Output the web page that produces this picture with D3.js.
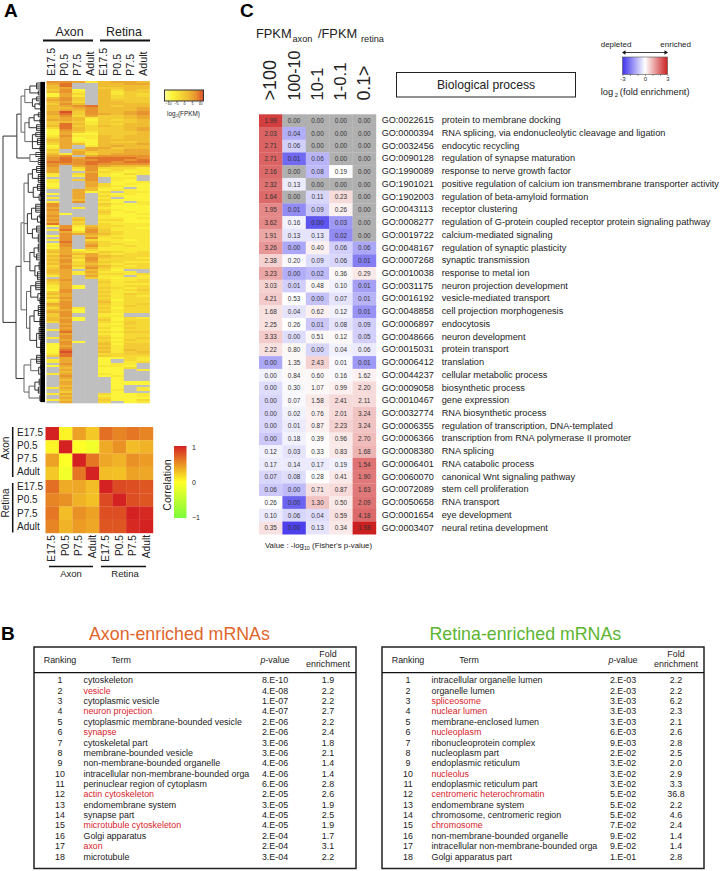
<!DOCTYPE html>
<html>
<head>
<meta charset="utf-8">
<script src="https://cdn.jsdelivr.net/npm/d3@7"></script>
<style>
html, body { margin: 0; padding: 0; background: #fff; }
text { font-family: "Liberation Sans", Arial, sans-serif; fill: #222; }
.panel { font-weight: bold; font-size: 19px; fill: #000; }
</style>
</head>
<body>
<div id="chart"></div>
<script>
var svgWidth = 724;
var svgHeight = 871;

// Panel A: sample names
var stages = ["E17.5", "P0.5", "P7.5", "Adult"];
var samples = ["Axon E17.5", "Axon P0.5", "Axon P7.5", "Axon Adult", "Retina E17.5", "Retina P0.5", "Retina P7.5", "Retina Adult"];

// Panel A: expression level per gene, one char per sample, 0 low .. 9 high, x = not detected
var expressionRows = [
  "77625665","68xx5566","58xx5555","56xx4455","471x5354","572x5244","163x5243","162x5343",
  "574x5344","674x5444","563x5544","475x5555","56785455","55675556","56575556","69475567",
  "68476567","57364456","56524456","66514345","45424445","48524355","58435455","38534456",
  "17534456","16424445","16114445","27225455","36125455","56115555","46215445","36515556",
  "16x25655","26x66455","4x565566","3x645566","52635666","67x67777","78688887","78778878",
  "88788788","77787777","7x676555","6x373332","6x272322","6xx63212","2x372132","2x27211x",
  "xxx7x22x","2x47x21x","2xx6x112","1xx63121","1xx63211","2xx521x1","xx651221","xx613x22",
  "1x6x2121","xx6x3211","2x6x2x11","xx5x3111","2x7x21x2","7xxx4212","7xxx3111","6x2x2111",
  "7xxx3211","6xxx4121","61xx3112","7xxx2111","6x4x2212","7x5x3311","6x3x2211","8x4x3222",
  "17253322","x7163221","28174222","x6374322","x7665322","17x53222","x7x72322","27x32212",
  "x8x53222","17x63322","27x73232","16x52222","46132222","56324323","36563233","57365433",
  "46474332","57273333","47364322","56353233","37465323","47274233","56x531xx","5626222x",
  "46253323","26x622x2","x6x42122","57xx3223","46xx4233","36xx3222","261x3233","261x4323",
  "17xx3234","47xx4223","56xx3243","36xx4232","57xx3233","26xx4133","37xx5233","67xx4234",
  "57xx3243","372x4133","561x3233","671x4233","47xx21xx","47xx22xx","561x3132","571x4133",
  "37xx3243","x6xx2143","x7xx2233","x6xx3143","27xx2133","x8xx3244","x6xx2133","x7xx3133",
  "27xx4234","x6xx3143","x71x4233","17xx5144","16xx4244","17xx5244","18xx4254","19xx5245",
  "28xx3344","48xx4333","x6xx1132","26xx1x32","26xx1x23","x7xx122x","16xx221x","x5xx113x",
  "x6xx11x2","x5xx11xx","26xx21xx","x7xx12xx","x6xxx1xx","x5xxx1xx","x6xxx111","x6xxx111",
  "x5xxx1xx","26xxx1x2","x5xxx2x2","x4xxx1xx","26xx3112","x5xx2112","x6xx3111","25xx4113",
  "x6xx3x12"
];

// Panel A: gene tree, [merge height, children...], a plain number is that many genes joined at that height
var geneTree = [1.0,
  [.67,
    [.57,
      [.48, [.36, [.2, 4], [.16, 3]], [.3, [.2, 3], [.24, [.14, 2], [.1, 3]]]],
      [.48, [.38, [.26, [.16, 3], [.12, 3]], [.2, 4]], [.3, [.22, 3], [.18, 4], [.12, 3]]]
    ],
    [.36, [.22, 3], [.16, 4]]
  ],
  [.69,
    [.57,
      [.5,
        [.4, [.3, [.2, 4], [.16, 5]], [.28, [.18, 4], [.14, [.1, 3], [.08, 3]]]],
        [.42, [.32, [.22, 5], [.18, [.12, 3], [.1, 3]]], [.3, [.2, 4], [.16, 5]]],
        [.36, [.26, [.16, 5], [.2, 4]], [.24, [.14, 5], [.18, 5]]]
      ],
      [.44, [.34, [.22, 5], [.17, [.1, 3], [.12, 4]]], [.36, [.26, [.16, 6], [.12, 5]], [.2, [.14, 7], [.1, 7]]]]
    ],
    [.5, [.34, [.2, 5], [.15, [.1, 3], [.08, 4]]], [.38, [.24, [.14, 4], [.16, 4]], [.12, 4]]]
  ]
];

// Panel A: sample correlation
var correlation = [
  [1, .05, .42, .25, .65, .55, .62, .55],
  [.05, 1, 0, -.1, .38, .5, .3, .35],
  [.42, 0, 1, .62, .4, .35, .5, .45],
  [.25, -.1, .62, 1, .3, .28, .42, .4],
  [.65, .38, .4, .3, 1, .82, .8, .76],
  [.55, .5, .35, .28, .82, 1, .8, .76],
  [.62, .3, .5, .42, .8, .8, 1, .97],
  [.55, .35, .45, .4, .76, .76, .97, 1]
];

// Panel C
var ratioBins = [">100", "100-10", "10-1", "1-0.1", "0.1>"];
var goIds = ["GO:0022615","GO:0000394","GO:0032456","GO:0090128","GO:1990089","GO:1901021","GO:1902003","GO:0043113","GO:0008277","GO:0019722","GO:0048167","GO:0007268","GO:0010038","GO:0031175","GO:0016192","GO:0048858","GO:0006897","GO:0048666","GO:0015031","GO:0006412","GO:0044237","GO:0009058","GO:0010467","GO:0032774","GO:0006355","GO:0006366","GO:0008380","GO:0006401","GO:0060070","GO:0072089","GO:0050658","GO:0001654","GO:0003407"];
var goTerms = [
  "protein to membrane docking",
  "RNA splicing, via endonucleolytic cleavage and ligation",
  "endocytic recycling",
  "regulation of synapse maturation",
  "response to nerve growth factor",
  "positive regulation of calcium ion transmembrane transporter activity",
  "regulation of beta-amyloid formation",
  "receptor clustering",
  "regulation of G-protein coupled receptor protein signaling pathway",
  "calcium-mediated signaling",
  "regulation of synaptic plasticity",
  "synaptic transmission",
  "response to metal ion",
  "neuron projection development",
  "vesicle-mediated transport",
  "cell projection morphogenesis",
  "endocytosis",
  "neuron development",
  "protein transport",
  "translation",
  "cellular metabolic process",
  "biosynthetic process",
  "gene expression",
  "RNA biosynthetic process",
  "regulation of transcription, DNA-templated",
  "transcription from RNA polymerase II promoter",
  "RNA splicing",
  "RNA catabolic process",
  "canonical Wnt signaling pathway",
  "stem cell proliferation",
  "RNA transport",
  "eye development",
  "neural retina development"
];
// -log10 p shown in each cell
var goPvalues = [
  [1.99,0,0,0,0],[2.03,.04,0,0,0],[2.71,.06,0,0,0],[2.71,.01,.06,0,0],[2.16,0,.08,.19,0],
  [2.32,.13,0,0,0],[1.64,0,.11,.23,0],[1.95,.01,.09,.26,0],[3.62,.16,0,.03,0],[1.91,.13,.13,.02,0],
  [3.26,0,.40,.06,.06],[2.38,.20,.09,.06,.01],[3.23,0,.02,.36,.29],[3.03,.01,.48,.10,.01],[4.21,.53,0,.07,.01],
  [1.68,.04,.62,.12,.01],[2.25,.26,.01,.08,.09],[3.33,0,.51,.12,.05],[2.22,.80,0,.04,.06],[0,1.35,2.43,.01,.01],
  [0,.84,.60,.16,1.62],[0,.30,1.07,.99,2.20],[0,.07,1.58,2.41,2.11],[0,.02,.76,2.01,3.24],[0,.01,.87,2.23,3.24],
  [0,.18,.39,.96,2.70],[.12,.03,.33,.83,1.68],[.17,.14,.17,.19,1.54],[.07,.08,.28,.41,1.90],[.06,0,.71,.87,1.63],
  [.26,0,1.30,.50,2.09],[.10,.06,.04,.59,4.18],[.35,0,.13,.34,1.98]
];
// log2 fold enrichment behind the cell colour, null = no genes (grey)
var goFold = [
  [2.6,null,null,null,null],[2.1,-1.2,null,null,null],[2.1,-.7,null,null,null],[2.1,-2.2,-1.1,null,null],[2,null,-1,0,null],
  [1.9,-.3,null,null,null],[2,null,-.6,.5,null],[1.6,-1.7,-.8,.2,null],[1.6,-.2,-2.5,-1.5,null],[1.2,-.4,-.4,-1.7,null],
  [1.4,-1.3,.2,-.7,-1.3],[.6,-.1,-.5,-.6,-1.9],[1.2,-1.2,-1,.1,.3],[.6,-.7,.1,-.2,-1.4],[.7,0,-.9,-.4,-1.1],
  [.4,-.4,.2,-.2,-1.6],[.4,0,-.8,-.4,-.7],[.7,-.5,.1,.1,-.7],[.4,.1,-.6,-.2,-.3],[-1.3,.1,.6,-.1,-1.5],
  [-.2,.1,.1,-.1,.2],[-.5,-.1,.1,.2,.5],[-.6,-.1,.3,.5,.5],[-.6,-.2,.2,.5,.8],[-.6,-.3,.2,.6,.8],
  [-.8,-.2,.05,.3,.9],[-.2,-.4,.05,.3,1],[-.3,-.3,-.3,-.2,1.9],[-.6,-.5,0,.3,1.8],[-.8,-1,.4,.5,1.8],
  [0,-2.3,.8,.3,1.9],[-.3,-.6,-.5,.4,2],[.4,-2.8,-.4,.3,3]
];

// Panel B
var tableRanks = d3.range(1, 19);
var axonTerms = ["cytoskeleton","vesicle","cytoplasmic vesicle","neuron projection","cytoplasmic membrane-bounded vesicle","synapse","cytoskeletal part","membrane-bounded vesicle","non-membrane-bounded organelle","intracellular non-membrane-bounded orga","perinuclear region of cytoplasm","actin cytoskeleton","endomembrane system","synapse part","microtubule cytoskeleton","Golgi apparatus","axon","microtubule"];
var axonP = ["8.E-10","4.E-08","1.E-07","4.E-07","2.E-06","2.E-06","3.E-06","3.E-06","4.E-06","4.E-06","6.E-06","2.E-05","3.E-05","4.E-05","4.E-05","2.E-04","2.E-04","3.E-04"];
var axonFoldText = ["1.9","2.2","2.2","2.7","2.2","2.4","1.8","2.1","1.4","1.4","2.8","2.6","1.9","2.5","1.9","1.7","3.1","2.2"];
var axonMarked = ["vesicle","neuron projection","synapse","actin cytoskeleton","microtubule cytoskeleton","axon"];
var retinaTerms = ["intracellular organelle lumen","organelle lumen","spliceosome","nuclear lumen","membrane-enclosed lumen","nucleoplasm","ribonucleoprotein complex","nucleoplasm part","endoplasmic reticulum","nucleolus","endoplasmic reticulum part","centromeric heterochromatin","endomembrane system","chromosome, centromeric region","chromosome","non-membrane-bounded organelle","intracellular non-membrane-bounded orga","Golgi apparatus part"];
var retinaP = ["2.E-03","2.E-03","3.E-03","3.E-03","3.E-03","6.E-03","9.E-03","2.E-02","3.E-02","3.E-02","3.E-02","5.E-02","5.E-02","5.E-02","7.E-02","9.E-02","9.E-02","1.E-01"];
var retinaFoldText = ["2.2","2.2","6.2","2.3","2.1","2.6","2.8","2.5","2.0","2.9","3.3","36.8","2.2","4.6","2.4","1.4","1.4","2.8"];
var retinaMarked = ["spliceosome","nuclear lumen","nucleoplasm","nucleolus","centromeric heterochromatin","chromosome"];

var svg = d3.select("#chart")
  .append("svg")
  .attr("width", svgWidth)
  .attr("height", svgHeight)
  .style("display", "block");

var defs = svg.append("defs");

// the source heatmap is slightly soft between rows
defs.append("filter").attr("id", "soft")
  .append("feGaussianBlur").attr("stdDeviation", "0 0.5");

function addGradient(id, stops, vertical) {
  var grad = defs.append("linearGradient")
    .attr("id", id)
    .attr("x1", 0).attr("y1", vertical ? 1 : 0)
    .attr("x2", vertical ? 0 : 1).attr("y2", 0);
  stops.forEach(function (c, i) {
    grad.append("stop").attr("offset", i / (stops.length - 1)).attr("stop-color", c);
  });
}

function label(parent, x, y, str, size, anchor) {
  return parent.append("text")
    .attr("x", x).attr("y", y)
    .attr("font-size", size)
    .attr("text-anchor", anchor || "start")
    .text(str);
}

function vlabel(parent, x, y, str, size, anchor) {
  return parent.append("text")
    .attr("transform", `translate(${x},${y}) rotate(-90)`)
    .attr("font-size", size)
    .attr("text-anchor", anchor || "start")
    .text(str);
}

function bar(parent, x1, y1, x2, y2, w) {
  parent.append("line")
    .attr("x1", x1).attr("y1", y1).attr("x2", x2).attr("y2", y2)
    .attr("stroke", "#111").attr("stroke-width", w);
}

// ---------- Panel A ----------
label(svg, 4, 17, "A", 19).attr("class", "panel");

var exprColor = d3.scaleLinear()
  .domain([0, 1, 2, 3, 5, 7, 9])
  .range(["#fdfb9c", "#fcf43a", "#f9e837", "#f6d835", "#f0bd33", "#e8942e", "#d9502a"]);

var exprX = d3.scaleBand().domain(samples).range([46.5, 149.5]);
var exprY = d3.scaleBand().domain(d3.range(expressionRows.length)).range([81, 403]);

var heatA = svg.append("g").attr("filter", "url(#soft)");
expressionRows.forEach(function (row, r) {
  samples.forEach(function (s, c) {
    var ch = row[c];
    heatA.append("rect")
      .attr("x", exprX(s)).attr("y", exprY(r))
      .attr("width", exprX.bandwidth() + .3).attr("height", exprY.bandwidth() + .3)
      .attr("fill", ch === "x" ? "#bfbfbf" : exprColor(+ch));
  });
});

bar(svg, 43, 40.5, 93, 40.5, 2);
bar(svg, 100, 40.5, 150, 40.5, 2);
label(svg, 69.5, 36, "Axon", 12.4, "middle");
label(svg, 124, 36, "Retina", 12.4, "middle");
var exprLabelX = d3.scalePoint().domain(samples).range([51, 143]);
samples.forEach(function (s, i) {
  vlabel(svg, exprLabelX(s) + 3.8, 76, stages[i % 4], 10.8);
});

// dendrogram
function buildTree(spec) {
  return {
    h: spec[0],
    children: d3.merge(spec.slice(1).map(function (c) {
      return typeof c === "number" ? d3.range(c).map(function () { return { h: 0 }; }) : [buildTree(c)];
    }))
  };
}
var treeRoot = d3.hierarchy(buildTree(geneTree));
d3.cluster().size([320, 1]).separation(function () { return 1; })(treeRoot);
var treeX = d3.scaleLinear().domain([1, 0]).range([3, 45]);

var treeG = svg.append("g").attr("transform", "translate(0,82)");
treeRoot.descendants().forEach(function (n) {
  if (!n.children) return;
  var kids = n.children;
  var col = n.depth < 2 ? "#333" : (n.depth < 4 ? "#666" : "#333");
  treeG.append("line")
    .attr("x1", treeX(n.data.h)).attr("x2", treeX(n.data.h))
    .attr("y1", kids[0].x).attr("y2", kids[kids.length - 1].x)
    .attr("stroke", col).attr("stroke-width", 1);
  kids.forEach(function (k) {
    treeG.append("line")
      .attr("x1", treeX(n.data.h)).attr("x2", treeX(k.data.h))
      .attr("y1", k.x).attr("y2", k.x)
      .attr("stroke", k.children ? col : "#222")
      .attr("stroke-width", k.children ? 1 : .9);
    // leaf ends pile up into a solid strip next to the heatmap
    if (!k.children) {
      treeG.append("line")
        .attr("x1", treeX(.11)).attr("x2", treeX(0))
        .attr("y1", k.x).attr("y2", k.x)
        .attr("stroke", "#000").attr("stroke-width", 2.2);
    }
  });
});

// FPKM colour key
var fpkmKey = d3.scaleLinear().domain([-10, 10]).range([168, 200]);
var keyStops = [0, 1, 3, 5, 7, 9].map(exprColor);
addGradient("fpkmGrad", keyStops, false);
svg.append("rect").attr("x", 164.5).attr("y", 90).attr("width", 39).attr("height", 11)
  .attr("fill", "url(#fpkmGrad)").attr("stroke", "#333").attr("stroke-width", 1);
var fpkmAxis = svg.append("g").attr("transform", "translate(0,101)")
  .call(d3.axisBottom(fpkmKey).tickValues([-10, -5, 0, 5, 10]).tickSize(1.5).tickPadding(0));
fpkmAxis.select(".domain").remove();
fpkmAxis.selectAll("line").attr("stroke", "#333").attr("stroke-width", .5);
fpkmAxis.selectAll("text").attr("font-size", 3.8).attr("font-family", null);
var fpkmLabel = label(svg, 183.5, 115.5, "log", 6.4, "middle");
fpkmLabel.append("tspan").attr("font-size", 4).attr("dy", 1.5).text("2");
fpkmLabel.append("tspan").attr("dy", -1.5).text("(FPKM)");

// correlation
var corrColor = d3.scaleLinear().domain([-1, 0, 1]).range(["#7cfc3c", "#ffff28", "#d42222"]);
var corrScale = d3.scaleBand().domain(samples).range([45.5, 153]);
var corrScaleY = d3.scaleBand().domain(samples).range([427, 533]);
svg.append("g").selectAll("g")
  .data(correlation)
  .enter()
  .append("g")
  .each(function (row, r) {
    d3.select(this).selectAll("rect")
      .data(row)
      .enter()
      .append("rect")
      .attr("x", function (d, c) { return corrScale(samples[c]); })
      .attr("y", corrScaleY(samples[r]))
      .attr("width", corrScale.bandwidth() + .2)
      .attr("height", corrScaleY.bandwidth() + .2)
      .attr("fill", function (d) { return corrColor(d); });
  });

var corrLabelX = d3.scalePoint().domain(samples).range([51.5, 146]);
samples.forEach(function (s, i) {
  var shift = i < 4 ? 2 : 3.4;
  label(svg, 17, corrScaleY(s) + corrScaleY.bandwidth() / 2 + shift, stages[i % 4], 10);
  vlabel(svg, corrLabelX(s) + 3.6, 535, stages[i % 4], 10.2, "end");
});
bar(svg, 12.7, 427, 12.7, 477, 1.5);
bar(svg, 12.7, 483, 12.7, 532.5, 1.5);
vlabel(svg, 9, 448, "Axon", 10, "middle");
vlabel(svg, 9, 503, "Retina", 10, "middle");
bar(svg, 49, 566.5, 93, 566.5, 1.5);
bar(svg, 101, 566.5, 146, 566.5, 1.5);
label(svg, 71, 577, "Axon", 9.5, "middle");
label(svg, 125, 577, "Retina", 9.5, "middle");

addGradient("corrGrad", ["#7cfc3c", "#ffff28", "#d42222"], true);
svg.append("rect").attr("x", 174).attr("y", 446).attr("width", 12.5).attr("height", 72)
  .attr("fill", "url(#corrGrad)");
var corrKey = d3.scaleLinear().domain([-1, 1]).range([517, 447]);
var corrAxis = svg.append("g").attr("transform", "translate(189,0)")
  .call(d3.axisRight(corrKey).tickValues([-1, 0, 1]).tickSize(0).tickPadding(3).tickFormat(d3.format("d")));
corrAxis.select(".domain").remove();
corrAxis.selectAll("text").attr("font-size", 7).attr("font-family", null);
vlabel(svg, 171, 485, "Correlation", 10.5, "middle");

// ---------- Panel C ----------
label(svg, 240, 17, "C", 19).attr("class", "panel");

var head = svg.append("g");
label(head, 256, 38, "FPKM", 12.8);
label(head, 292.5, 42, "axon", 9.2);
label(head, 318, 38, "/FPKM", 12.8);
label(head, 361, 42, "retina", 9.2);

var binX = d3.scaleBand().domain(ratioBins).range([259, 376]);
var goY = d3.scaleBand().domain(goIds).range([114.3, 534.3]);
var foldColor = d3.scaleLinear().domain([-3, 0, 3]).range(["#3f33ec", "#ffffff", "#cc2020"]);
var binLabelSize = [18, 16, 16.5, 16.7, 17.7];
ratioBins.forEach(function (b, i) {
  vlabel(svg, binX(b) + binX.bandwidth() / 2 + 5.5, 100.5, b, binLabelSize[i]);
});

svg.append("rect").attr("x", 396.5).attr("y", 72.5).attr("width", 179).attr("height", 24.5)
  .attr("fill", "#fff").attr("stroke", "#222").attr("stroke-width", 1);
label(svg, 486, 89, "Biological process", 12.2, "middle");

var cellG = svg.append("g");
goIds.forEach(function (id, r) {
  ratioBins.forEach(function (b, c) {
    var f = goFold[r][c];
    cellG.append("rect")
      .attr("x", binX(b)).attr("y", goY(id))
      .attr("width", binX.bandwidth() + .2).attr("height", goY.bandwidth() + .2)
      .attr("fill", f === null ? "#b0b0b0" : foldColor(f));
    label(cellG, binX(b) + binX.bandwidth() / 2, goY(id) + goY.bandwidth() / 2 + 2.3, goPvalues[r][c].toFixed(2), 6.4, "middle")
      .style("fill", "#333");
  });
  label(svg, 381.7, goY(id) + goY.bandwidth() / 2 + 2.6, id, 9.1);
  label(svg, 441.7, goY(id) + goY.bandwidth() / 2 + 2.6, goTerms[r], 9.2);
});

var valueLabel = label(svg, 265, 548, "Value : -log", 7.8);
valueLabel.append("tspan").attr("font-size", 5.4).attr("dy", 1.5).text("10");
valueLabel.append("tspan").attr("dy", -1.5).text(" (Fisher's p-value)");

// fold enrichment key
addGradient("foldGrad", ["#3f33ec", "#ffffff", "#cc2020"], false);
var foldKey = d3.scaleLinear().domain([-3, 3]).range([622.5, 667.5]);
svg.append("rect").attr("x", 622.5).attr("y", 57).attr("width", 45).attr("height", 17.5)
  .attr("fill", "url(#foldGrad)").attr("stroke", "#555").attr("stroke-width", .6);
var foldAxis = svg.append("g").attr("transform", "translate(0,74.5)")
  .call(d3.axisBottom(foldKey).tickValues([-3, -2, -1, 0, 1, 2, 3]).tickSize(1.5).tickPadding(1)
    .tickFormat(function (d) { return d % 3 === 0 ? d : ""; }));
foldAxis.select(".domain").remove();
foldAxis.selectAll("line").attr("stroke", "#333").attr("stroke-width", .5);
foldAxis.selectAll("text").attr("font-size", 6).attr("font-family", null);
label(svg, 600.7, 47, "depleted", 8);
label(svg, 691, 47, "enriched", 8, "end");
bar(svg, 623, 52.5, 667, 52.5, .8);
svg.append("path").attr("d", "M622 52.5l3.5-2.2v4.4zM668 52.5l-3.5-2.2v4.4z").attr("fill", "#111");
var foldLabel = label(svg, 600.7, 95, "log", 9.3);
foldLabel.append("tspan").attr("font-size", 6).attr("dy", 2).text(" 2 ");
foldLabel.append("tspan").attr("dy", -2).text("(fold enrichment)");

// ---------- Panel B ----------
label(svg, 1, 640, "B", 19).attr("class", "panel");

function drawTable(opts) {
  var g = svg.append("g").attr("transform", `translate(${opts.left},0)`);
  var rowY = d3.scalePoint().domain(tableRanks).range([680.3, 856.6]);

  label(svg, opts.titleX, 640, opts.title, 17.8).style("fill", opts.titleColor);

  g.append("rect").attr("x", 0).attr("y", 647).attr("width", 322).attr("height", 221.5)
    .attr("fill", "none").attr("stroke", "#222").attr("stroke-width", 1.5);
  bar(g, 0, 672.7, 322, 672.7, 1.2);

  label(g, 26, 662.7, "Ranking", 8.9, "middle");
  label(g, 87, 662.7, "Term", 8.9, "middle");
  var pHead = label(g, 241, 662.7, "p", 8.9, "middle").attr("font-style", "italic");
  pHead.append("tspan").attr("font-style", "normal").text("-value");
  label(g, 294, 656.7, "Fold", 8.9, "middle");
  label(g, 294, 667.3, "enrichment", 8.9, "middle");

  tableRanks.forEach(function (rank, i) {
    var y = rowY(rank) + 3;
    label(g, 26, y, rank, 8.9, "middle");
    label(g, 49.5, y, opts.terms[i], 8.9)
      .style("fill", opts.marked.indexOf(opts.terms[i]) >= 0 ? "#d8232a" : "#222");
    label(g, 241, y, opts.p[i], 8.9, "middle");
    label(g, 294, y, opts.fold[i], 8.9, "middle");
  });
}

drawTable({ left: 34, title: "Axon-enriched mRNAs", titleX: 89, titleColor: "#e0652b", terms: axonTerms, p: axonP, fold: axonFoldText, marked: axonMarked });
drawTable({ left: 382, title: "Retina-enriched mRNAs", titleX: 429.5, titleColor: "#5cb531", terms: retinaTerms, p: retinaP, fold: retinaFoldText, marked: retinaMarked });
</script>
</body>
</html>
